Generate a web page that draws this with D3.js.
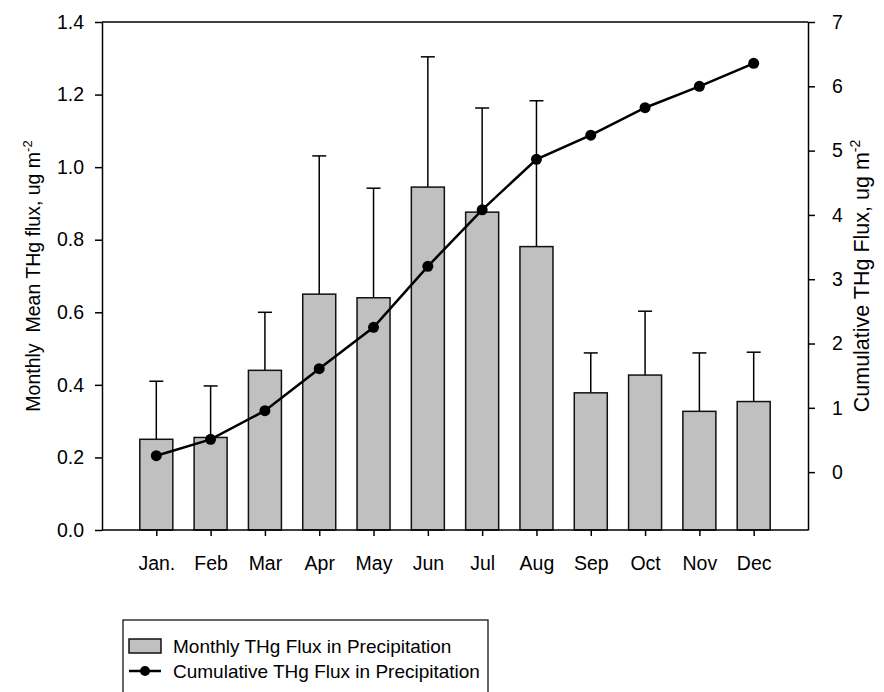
<!DOCTYPE html>
<html>
<head>
<meta charset="utf-8">
<script src="https://cdn.jsdelivr.net/npm/d3@7"></script>
<style>
  body { margin: 0; background: #fff; }
  text { font-family: "Liberation Sans", Arial, sans-serif; fill: #000; }
</style>
</head>
<body>
<script>
var months = ["Jan.", "Feb", "Mar", "Apr", "May", "Jun", "Jul", "Aug", "Sep", "Oct", "Nov", "Dec"];
var monthlyFlux = [0.25, 0.255, 0.44, 0.65, 0.64, 0.945, 0.876, 0.781, 0.378, 0.427, 0.327, 0.354];
var monthlyErr = [0.41, 0.397, 0.60, 1.031, 0.942, 1.304, 1.163, 1.183, 0.488, 0.603, 0.488, 0.49];
var cumulativeFlux = [0.255, 0.51, 0.955, 1.608, 2.252, 3.20, 4.08, 4.865, 5.24, 5.667, 6.0, 6.358];
var leftTicks = [0, 0.2, 0.4, 0.6, 0.8, 1.0, 1.2, 1.4];
var rightTicks = [0, 1, 2, 3, 4, 5, 6, 7];
var legendLabels = ["Monthly THg Flux in Precipitation", "Cumulative THg Flux in Precipitation"];

var W = 884, H = 692;
var mLeft = 102, mRight = 808, mTop = 22, mBottom = 530;
var fs = 19.5;

var svg = d3.select("body").append("svg")
  .attr("width", W)
  .attr("height", H);

var x = d3.scalePoint().domain(months).range([mLeft, mRight]).padding(1);
var y = d3.scaleLinear().domain([0, 1.4]).range([mBottom, mTop]);
var y2 = d3.scaleLinear().domain([-0.9, 7]).range([mBottom, mTop]);

var barW = 33;

// top frame line
svg.append("line")
  .attr("x1", mLeft).attr("x2", mRight)
  .attr("y1", mTop).attr("y2", mTop)
  .attr("stroke", "#000").attr("stroke-width", 1.5);

// error bars (upper only)
var eb = svg.append("g").attr("stroke", "#000").attr("stroke-width", 1.5);
months.forEach(function (m, i) {
  eb.append("line")
    .attr("x1", x(m)).attr("x2", x(m))
    .attr("y1", y(monthlyFlux[i])).attr("y2", y(monthlyErr[i]));
  eb.append("line")
    .attr("x1", x(m) - 7).attr("x2", x(m) + 7)
    .attr("y1", y(monthlyErr[i])).attr("y2", y(monthlyErr[i]));
});

// bars
svg.append("g").selectAll("rect")
  .data(months)
  .enter()
  .append("rect")
  .attr("x", function (d) { return x(d) - barW / 2; })
  .attr("y", function (d, i) { return y(monthlyFlux[i]); })
  .attr("width", barW)
  .attr("height", function (d, i) { return mBottom - y(monthlyFlux[i]); })
  .attr("fill", "#c0c0c0")
  .attr("stroke", "#111")
  .attr("stroke-width", 1.5);

// cumulative line
var line = d3.line()
  .x(function (d, i) { return x(months[i]); })
  .y(function (d) { return y2(d); });

svg.append("path")
  .datum(cumulativeFlux)
  .attr("d", line)
  .attr("fill", "none")
  .attr("stroke", "#000")
  .attr("stroke-width", 2.5);

svg.append("g").selectAll("circle")
  .data(cumulativeFlux)
  .enter()
  .append("circle")
  .attr("cx", function (d, i) { return x(months[i]); })
  .attr("cy", function (d) { return y2(d); })
  .attr("r", 5.5)
  .attr("fill", "#000");

// axes
function styleAxis(g) {
  g.selectAll("path").attr("stroke", "#000").attr("stroke-width", 1.5);
  g.selectAll("line").attr("stroke", "#000").attr("stroke-width", 1.5);
  g.selectAll("text").attr("font-size", fs).attr("font-family", "Liberation Sans, Arial, sans-serif");
}

var xAxis = d3.axisBottom(x).tickSizeInner(6).tickSizeOuter(0).tickPadding(20);
svg.append("g")
  .attr("transform", "translate(0," + mBottom + ")")
  .call(xAxis)
  .call(styleAxis)
  .call(function (g) { g.select(".domain").attr("d", "M" + mLeft + ",0H" + mRight); });

var yAxis = d3.axisLeft(y).tickValues(leftTicks).tickFormat(d3.format(".1f"))
  .tickSizeInner(7).tickSizeOuter(0).tickPadding(11);
svg.append("g")
  .attr("transform", "translate(" + mLeft + ",0)")
  .call(yAxis)
  .call(styleAxis);

var y2Axis = d3.axisRight(y2).tickValues(rightTicks).tickFormat(d3.format("d"))
  .tickSizeInner(7).tickSizeOuter(0).tickPadding(17);
svg.append("g")
  .attr("transform", "translate(" + mRight + ",0)")
  .call(y2Axis)
  .call(styleAxis);

// axis titles
var midY = (mTop + mBottom) / 2;
var t1 = svg.append("text")
  .attr("transform", "translate(40," + midY + ") rotate(-90)")
  .attr("text-anchor", "middle")
  .attr("font-size", fs);
t1.append("tspan").text("Monthly \u00a0Mean THg flux, ug m");
t1.append("tspan").attr("dy", -8).attr("font-size", 13).text("-2");

var t2 = svg.append("text")
  .attr("transform", "translate(869," + midY + ") rotate(-90)")
  .attr("text-anchor", "middle")
  .attr("font-size", 21.5);
t2.append("tspan").text("Cumulative THg Flux, ug m");
t2.append("tspan").attr("dy", -9).attr("font-size", 14).text("-2");

// legend
var lg = svg.append("g");
lg.append("rect")
  .attr("x", 123).attr("y", 620)
  .attr("width", 365).attr("height", 100)
  .attr("fill", "none")
  .attr("stroke", "#000")
  .attr("stroke-width", 1.2);
lg.append("rect")
  .attr("x", 129).attr("y", 639)
  .attr("width", 32).attr("height", 14)
  .attr("fill", "#c0c0c0")
  .attr("stroke", "#111")
  .attr("stroke-width", 1.5);
lg.append("line")
  .attr("x1", 129).attr("x2", 161)
  .attr("y1", 671).attr("y2", 671)
  .attr("stroke", "#000").attr("stroke-width", 2.5);
lg.append("circle")
  .attr("cx", 145).attr("cy", 671).attr("r", 5)
  .attr("fill", "#000");
lg.selectAll("text.lbl")
  .data(legendLabels)
  .enter()
  .append("text")
  .attr("class", "lbl")
  .attr("x", 173)
  .attr("y", function (d, i) { return 653 + i * 25; })
  .attr("font-size", 19)
  .text(function (d) { return d; });
</script>
</body>
</html>
